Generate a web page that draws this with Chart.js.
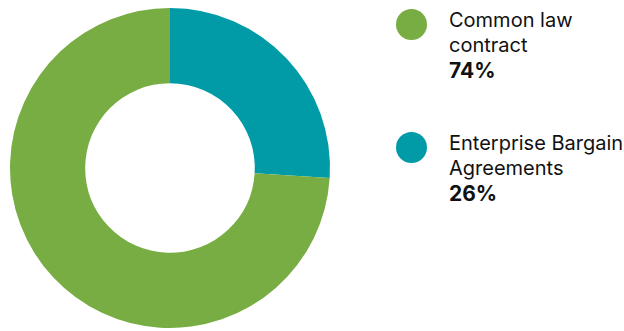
<!DOCTYPE html>
<html>
<head>
<meta charset="utf-8">
<script src="https://cdn.jsdelivr.net/npm/chart.js@4/dist/chart.umd.min.js"></script>
<style>
  html, body { margin: 0; padding: 0; background: #fff; }
  #wrap { position: relative; width: 624px; height: 331px; }
  #chartBox { position: absolute; left: 0; top: 0; width: 340px; height: 336px; }
  #legend { position: absolute; left: 396px; top: 0; font-family: Inter, "Noto Sans", sans-serif; color: #111; }
  .item { position: absolute; left: 0; width: 230px; }
  .dot { position: absolute; left: 0; width: 31px; height: 31px; border-radius: 50%; }
  .txt { position: absolute; left: 53px; font-size: 20px; line-height: 25px; white-space: nowrap; }
  .pct { font-weight: 700; font-size: 21px; }
</style>
</head>
<body>
<div id="wrap">
  <div id="chartBox"><canvas id="donut"></canvas></div>
  <div id="legend"></div>
</div>
<script>
const labels = [['Enterprise Bargain', 'Agreements'], ['Common law', 'contract']];
const values = [26, 74];
const colors = ['#019ba8', '#77ad43'];

// legend order on the right is reversed (common law first)
const legendOrder = [1, 0];
const legendTops = [8, 131];

const legend = document.getElementById('legend');
legendOrder.forEach((i, n) => {
  const item = document.createElement('div');
  item.className = 'item';
  item.style.top = legendTops[n] + 'px';
  item.innerHTML =
    '<div class="dot" style="top:1px;background:' + colors[i] + '"></div>' +
    '<div class="txt" style="top:0">' + labels[i].join('<br>') +
    '<br><span class="pct">' + values[i] + '%</span></div>';
  legend.appendChild(item);
});

new Chart(document.getElementById('donut'), {
  type: 'doughnut',
  data: {
    labels: labels.map(l => l.join(' ')),
    datasets: [{
      data: values,
      backgroundColor: colors,
      borderWidth: 0,
    }]
  },
  options: {
    responsive: true,
    maintainAspectRatio: false,
    animation: false,
    cutout: '53%',
    layout: { padding: 8 },
    plugins: {
      legend: { display: false },
      tooltip: { enabled: false }
    }
  }
});
</script>
</body>
</html>
